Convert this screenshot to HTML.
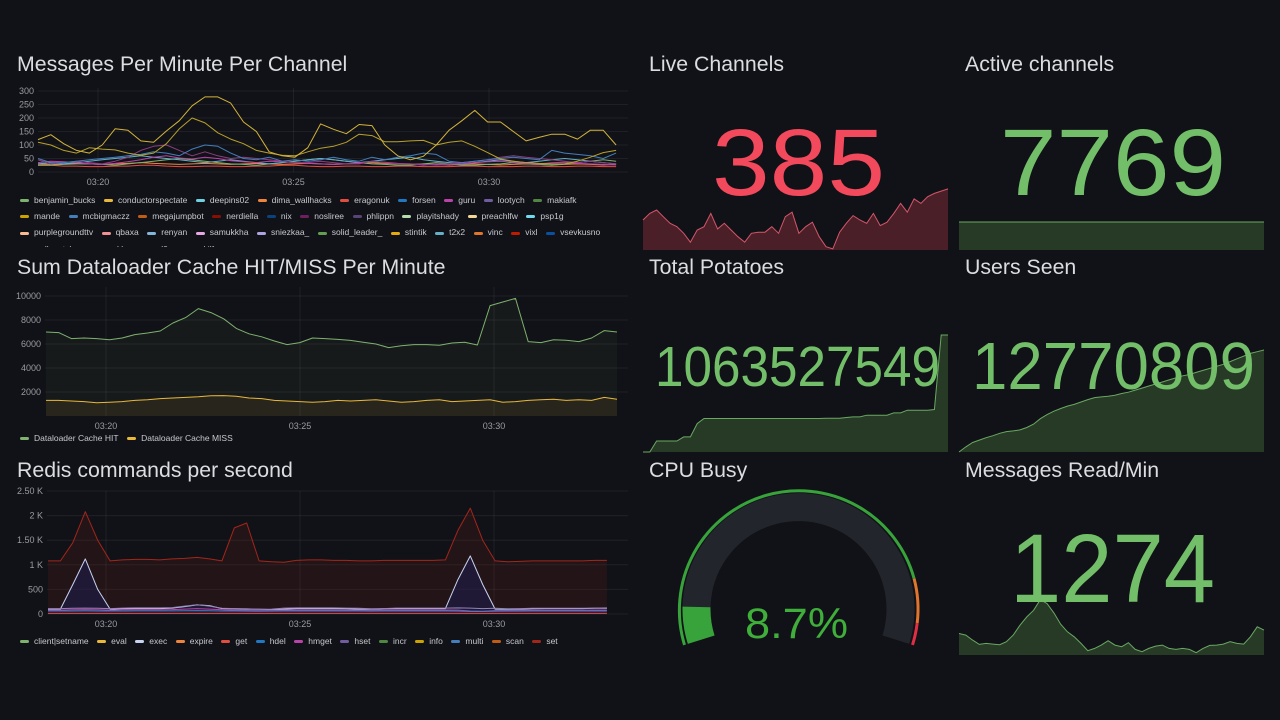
<!DOCTYPE html>
<html><head><meta charset="utf-8">
<style>
html,body{margin:0;padding:0;background:#111217;width:1280px;height:720px;overflow:hidden;font-family:"Liberation Sans",sans-serif}
svg{position:absolute;left:0;top:0}
.leg{position:absolute;left:20px;font-size:8.5px;color:#c7c8d0;white-space:nowrap;overflow:hidden}
.leg span.i{display:inline-flex;align-items:center;margin-right:8.5px}
.leg span.d{display:inline-block;width:9px;height:3px;border-radius:2px;margin-right:5px}
</style></head>
<body>
<svg id="s" width="1280" height="720"></svg>
<div id="leg1" class="leg" style="top:192px;width:610px;height:55px;line-height:15.5px"></div>
<div id="leg2" class="leg" style="top:431px;width:610px;height:14px;line-height:13px"></div>
<div id="leg3" class="leg" style="top:634px;width:610px;height:14px;line-height:13px"></div>
<script>
// ===== Chart 1: Messages per minute per channel =====
const ch1Names=["benjamin_bucks","conductorspectate","deepins02","dima_wallhacks","eragonuk","forsen","guru","lootych","makiafk","mande","mcbigmaczz","megajumpbot","nerdiella","nix","nosliree","phlippn","playitshady","preachlfw","psp1g","purplegroundttv","qbaxa","renyan","samukkha","sniezkaa_","solid_leader_","stintik","t2x2","vinc","vixl","vsevkusno","walkerstyle","xenokk","xsql0x","yukilfeus"];
const ch1Colors=["#7eb26d","#eab839","#6ed0e0","#ef843c","#e24d42","#1f78c1","#ba43a9","#705da0","#508642","#cca300","#447ebc","#c15c17","#890f02","#0a437c","#6d1f62","#584477","#b7dbab","#f4d598","#70dbed","#f9ba8f","#f29191","#82b5d8","#e5a8e2","#aea2e0","#629e51","#e5ac0e","#64b0c8","#e0752d","#bf1b00","#0a50a1","#962d82","#614d93","#9ac48a","#f2c96d"];
const ch1YTicks=[0,50,100,150,200,250,300];
const ch1XTicks=[20,25,30];
const ch1Conductor=[120,138,105,80,70,100,160,155,115,110,152,190,245,278,278,255,185,150,75,60,55,90,178,158,142,176,172,100,60,45,58,100,155,190,228,185,185,150,115,128,140,140,122,155,155,100];
const ch1Mande=[110,100,80,70,90,85,82,70,62,70,105,160,200,182,145,122,105,80,70,62,60,75,88,95,110,140,135,112,112,115,117,100,110,115,95,72,48,40,35,32,30,30,40,55,72,80];
const ch1Mcbig=[50,35,35,40,45,50,55,60,65,75,70,60,85,100,95,70,50,45,55,40,45,40,45,55,45,40,55,45,55,60,70,65,40,35,40,45,50,55,50,45,80,70,65,60,50,70];
const ch1Nosliree=[45,30,35,40,35,30,40,55,80,95,100,80,60,75,60,50,55,50,45,40,35,35,40,35,30,30,40,35,30,30,25,30,30,35,40,45,55,60,55,50,45,40,35,40,35,30];
const ch1T2x2=[30,35,30,35,40,45,50,55,60,55,50,45,40,35,40,45,40,35,30,35,40,45,50,45,40,35,40,45,50,55,45,40,35,30,35,40,45,40,35,40,45,50,45,40,35,30];
const ch1Benjamin=[25,25,28,30,30,28,25,30,35,40,45,50,45,40,35,30,28,25,30,35,40,45,50,45,40,35,30,28,25,25,30,35,30,25,25,28,30,35,30,28,25,30,35,40,45,40];
const ch1Eragonuk=[25,25,22,22,20,20,22,22,25,25,22,20,20,22,22,20,20,22,22,25,25,22,20,20,22,22,20,20,22,22,20,20,20,22,22,20,20,20,22,22,20,20,22,22,20,20];
const ch1Dima=[30,28,30,32,30,28,30,32,35,32,30,28,30,32,30,28,30,32,30,28,30,32,30,28,30,32,35,32,30,28,30,28,26,28,30,28,26,28,30,28,26,28,30,28,26,28];
const ch1Guru=[35,40,38,35,30,28,32,38,45,55,60,52,48,55,50,42,38,35,40,38,35,32,30,28,30,34,38,36,32,30,28,26,28,30,34,38,40,36,32,30,34,36,32,30,28,26];

// ===== Chart 2: Dataloader cache =====
const ch2YTicks=[2000,4000,6000,8000,10000];
const ch2Hit=[7000,6950,6450,6500,6450,6350,6500,6780,6920,7080,7750,8200,8950,8620,8100,7300,6850,6600,6250,5950,6120,6500,6450,6380,6300,6150,6000,5700,5850,5950,5950,5900,6080,6150,5920,9200,9500,9800,6200,6120,6350,6320,6200,6500,7120,7000];
const ch2Miss=[1300,1300,1250,1200,1100,1150,1200,1300,1350,1450,1500,1550,1600,1680,1700,1650,1500,1450,1300,1250,1200,1150,1200,1300,1250,1300,1350,1250,1150,1200,1300,1350,1200,1250,1300,1350,1150,1200,1300,1350,1400,1300,1350,1300,1550,1400];

// ===== Chart 3: Redis commands =====
const ch3Names=["client|setname","eval","exec","expire","get","hdel","hmget","hset","incr","info","multi","scan","set"];
const ch3Colors=["#7eb26d","#eab839","#c8d3f0","#ef843c","#e24d42","#1f78c1","#ba43a9","#705da0","#508642","#cca300","#447ebc","#c15c17","#a3261a"];
const ch3YTicks=[0,500,1000,1500,2000,2500];
const ch3YLabels=["0","500","1 K","1.50 K","2 K","2.50 K"];
const ch3Set=[1080,1080,1450,2080,1500,1080,1100,1110,1110,1100,1120,1130,1150,1120,1080,1750,1850,1080,1060,1050,1090,1100,1100,1090,1090,1080,1080,1090,1090,1090,1090,1090,1100,1700,2150,1500,1080,1060,1070,1080,1080,1080,1080,1080,1090,1090];
const ch3Exec=[100,100,600,1120,500,100,105,110,110,110,120,150,185,170,110,105,100,95,90,100,110,110,110,110,105,100,100,105,110,110,110,110,110,700,1180,600,100,95,100,105,110,110,110,110,115,115];
const ch3Hset=[110,110,115,120,115,110,120,125,125,125,130,160,190,160,115,110,105,95,100,120,125,125,125,125,120,115,105,110,120,120,120,120,120,125,120,110,115,105,110,115,115,115,115,115,120,125];
const ch3Hmget=[80,80,85,90,85,80,85,85,85,85,90,100,110,100,85,80,78,75,78,80,82,82,82,82,80,80,78,80,82,82,82,82,82,80,60,55,70,72,75,78,78,78,78,78,80,80];
const ch3Multi=[60,60,60,62,60,60,60,62,62,62,62,65,70,65,60,60,58,55,58,60,60,60,60,60,60,60,58,60,60,60,60,60,60,58,50,50,55,58,58,60,60,60,60,60,60,60];
const ch3Get=[12,12,12,12,12,12,12,12,12,12,12,12,12,12,12,12,12,12,12,12,12,12,12,12,12,12,12,12,12,12,12,12,12,12,12,12,12,12,12,12,12,12,12,12,12,12];

// ===== Stat sparklines =====
const liveChannels=[357,363,366,360,354,351,345,337,348,351,363,349,354,348,342,337,345,346,346,351,345,360,364,345,351,355,342,333,331,346,354,361,357,354,363,352,355,363,372,364,376,372,378,381,383,385];
const activeChannels=[7769,7769,7769,7769,7769,7769,7769,7769,7769,7769,7769,7769,7769,7769,7769,7769,7769,7769,7769,7769,7769,7769,7769,7769,7769,7769,7769,7769,7769,7769,7769,7769,7769,7769,7769,7769,7769,7769,7769,7769,7769,7769,7769,7769,7769,7769];
const totalPotatoes=[1060030000,1060030000,1060360000,1060360000,1060360000,1060360000,1060480000,1060480000,1060880000,1061030000,1061030000,1061030000,1061030000,1061030000,1061030000,1061030000,1061030000,1061030000,1061030000,1061030000,1061030000,1061030000,1061030000,1061030000,1061030000,1061030000,1061030000,1061040000,1061040000,1061040000,1061060000,1061080000,1061080000,1061130000,1061130000,1061130000,1061130000,1061200000,1061200000,1061280000,1061280000,1061280000,1061280000,1061300000,1063527549,1063527549];
const usersSeen=[12020809,12058309,12090809,12108309,12125809,12140809,12158309,12170809,12175809,12183309,12200809,12225809,12265809,12295809,12320809,12340809,12358309,12370809,12388309,12405809,12420809,12425809,12430809,12438309,12450809,12460809,12475809,12490809,12505809,12520809,12535809,12550809,12565809,12580809,12590809,12605809,12620809,12635809,12650809,12665809,12685809,12705809,12725809,12745809,12758309,12770809];
const messagesRead=[1174,1124,974,844,874,854,834,924,1124,1424,1674,1874,2194,2074,1794,1454,1224,1074,874,654,724,824,954,824,774,894,694,624,724,794,824,724,694,724,694,594,724,814,824,854,924,874,854,1074,1374,1274];
const cpuBusy=8.7;
const cpuThresholds=[0,85,95,100];
const cpuThresholdColors=["#37a33a","#e0752d","#e02f44"];

const NS="http://www.w3.org/2000/svg";
const svg=document.getElementById("s");
function mk(tag,attrs,parent){const e=document.createElementNS(NS,tag);for(const k in attrs)e.setAttribute(k,attrs[k]);(parent||svg).appendChild(e);return e;}

// titles
const titles=[["Messages Per Minute Per Channel",17,64],["Sum Dataloader Cache HIT/MISS Per Minute",17,267],["Redis commands per second",17,470],["Live Channels",649,64],["Active channels",965,64],["Total Potatoes",649,267],["Users Seen",965,267],["CPU Busy",649,470],["Messages Read/Min",965,470]];
titles.forEach(t=>{
  const e=mk("text",{x:t[1],y:t[2]+7,fill:"#dcdde0","font-size":"21.3","font-family":"Liberation Sans, sans-serif"});
  e.textContent=t[0];
  
  
});

function timeChart(c){
  const g=mk("g",{});
  
  
  const X=m=>c.x20+(m-20)*c.ppm;
  const Y=v=>c.y0-v*c.ppv;
  c.yTicks.forEach((v,k)=>{
    const gl=mk("line",{x1:c.left,x2:c.right,y1:Y(v),y2:Y(v),stroke:"rgba(204,204,220,0.08)","stroke-width":1},g);
    
    
    const t=mk("text",{x:c.left-4,y:Y(v)+3,fill:"#9a9aa3","font-size":"9","text-anchor":"end"},g);
    t.textContent=c.yLabels?c.yLabels[k]:String(v);
    
    
  });
  c.xTicks.forEach(m=>{
    const gl=mk("line",{x1:X(m),x2:X(m),y1:c.top,y2:c.y0,stroke:"rgba(204,204,220,0.08)","stroke-width":1},g);
    
    
    const t=mk("text",{x:X(m),y:c.y0+13,fill:"#9a9aa3","font-size":"9","text-anchor":"middle"},g);
    t.textContent="03:"+String(m).padStart(2,"0");
    
    
  });
  c.series.forEach(s=>{
    const n=s.vals.length;
    const pts=s.vals.map((v,i)=>[X(c.t0+i*(c.t1-c.t0)/(n-1)),Y(v)]);
    const d="M"+pts.map(p=>p[0].toFixed(1)+","+p[1].toFixed(1)).join("L");
    if(s.fill){
      const a=mk("path",{d:d+"L"+pts[n-1][0].toFixed(1)+","+c.y0+"L"+pts[0][0].toFixed(1)+","+c.y0+"Z",fill:s.fill,stroke:"none"},g);
      
      
    }
    const p=mk("path",{d:d,fill:"none",stroke:s.color,"stroke-width":s.w||1,"stroke-linejoin":"round"},g);
    
    
  });
}

timeChart({name:"messages-chart",left:38,right:628,top:88,y0:172,ppv:0.27,x20:98,ppm:39.1,t0:18.465,t1:33.25,yTicks:ch1YTicks,xTicks:ch1XTicks,series:[
  {name:"eragonuk",color:"#e24d42",vals:ch1Eragonuk},
  {name:"dima-wallhacks",color:"#ef843c",vals:ch1Dima},
  {name:"benjamin-bucks",color:"#7eb26d",vals:ch1Benjamin},
  {name:"t2x2",color:"#64b0c8",vals:ch1T2x2},
  {name:"guru",color:"#ba43a9",vals:ch1Guru},
  {name:"nosliree",color:"#8a3f7e",vals:ch1Nosliree},
  {name:"mcbigmaczz",color:"#447ebc",vals:ch1Mcbig},
  {name:"mande",color:"#b8a12a",vals:ch1Mande},
  {name:"conductorspectate",color:"#d4b43a",vals:ch1Conductor}
]});
timeChart({name:"cache-chart",left:45,right:628,top:287,y0:416,ppv:0.012,x20:106,ppm:38.8,t0:18.454,t1:33.17,yTicks:ch2YTicks,xTicks:ch1XTicks,series:[
  {name:"cache-hit",color:"#7eb26d",vals:ch2Hit,fill:"rgba(126,178,109,0.06)"},
  {name:"cache-miss",color:"#eab839",vals:ch2Miss,fill:"rgba(234,184,57,0.08)"}
]});
timeChart({name:"redis-chart",left:47,right:628,top:491,y0:614,ppv:0.0492,x20:106,ppm:38.8,t0:18.505,t1:32.91,yTicks:ch3YTicks,yLabels:ch3YLabels,xTicks:ch1XTicks,series:[
  {name:"set",color:"#a3261a",vals:ch3Set,fill:"rgba(163,38,26,0.13)"},
  {name:"exec",color:"#c8d3f0",vals:ch3Exec,fill:"rgba(30,30,80,0.55)"},
  {name:"hset",color:"#8f86b8",vals:ch3Hset},
  {name:"hmget",color:"#ba43a9",vals:ch3Hmget},
  {name:"multi",color:"#447ebc",vals:ch3Multi},
  {name:"get",color:"#e24d42",vals:ch3Get}
]});

// legends
function legendRows(el,rows,colorOf){
  rows.forEach(r=>{
    const row=document.createElement("div");
    r.forEach(n=>{
      const it=document.createElement("span");it.className="i";
      
      
      const d=document.createElement("span");d.className="d";d.style.background=colorOf(n);
      it.appendChild(d);it.appendChild(document.createTextNode(n));row.appendChild(it);
    });
    el.appendChild(row);
  });
}
const c1=n=>ch1Colors[ch1Names.indexOf(n)];
legendRows(document.getElementById("leg1"),[ch1Names.slice(0,9),ch1Names.slice(9,19),ch1Names.slice(19,30),ch1Names.slice(30)],c1);
legendRows(document.getElementById("leg2"),[["Dataloader Cache HIT","Dataloader Cache MISS"]],n=>n.endsWith("HIT")?"#7eb26d":"#eab839");
legendRows(document.getElementById("leg3"),[ch3Names],n=>ch3Colors[ch3Names.indexOf(n)]);

// sparklines
function spark(name,vals,x0,x1,yb,yt,vmin,vmax,stroke,fill){
  const n=vals.length;
  const pts=vals.map((v,i)=>[x0+i*(x1-x0)/(n-1),yb-(v-vmin)/(vmax-vmin)*(yb-yt)]);
  const d="M"+pts.map(p=>p[0].toFixed(1)+","+p[1].toFixed(1)).join("L");
  const a=mk("path",{d:d+"L"+x1+","+yb+"L"+x0+","+yb+"Z",fill:fill,stroke:"none"});
  
  
  const l=mk("path",{d:d,fill:"none",stroke:stroke,"stroke-width":1});
  
  
}
spark("live-channels",liveChannels,643,948,250,190.7,330,383.4,"#d4566a","#4a1f27");
spark("active-channels",activeChannels,959,1264,250,185,7700,7860,"#6aa862","#263a26");
spark("total-potatoes",totalPotatoes,643,948,452,335,1060030000,1063527549,"#6aa862","#263a26");
spark("users-seen",usersSeen,959,1264,452,350,12020809,12770809,"#6aa862","#263a26");
spark("messages-read",messagesRead,959,1264,655,597,524,2274,"#6aa862","#263a26");

function bigNum(name,txt,cx,base,size,len,color){
  const t=mk("text",{x:cx,y:base,fill:color,"font-size":size,"text-anchor":"middle",textLength:len,lengthAdjust:"spacingAndGlyphs"});
  t.textContent=txt;
  
  
}
bigNum("live-channels-value","385",798.5,195,95,173,"#f2495c");
bigNum("active-channels-value","7769",1113,195,95,226,"#73bf69");
bigNum("total-potatoes-value","1063527549",797.5,386,57,285,"#73bf69");
bigNum("users-seen-value","12770809",1113.5,389,67,283,"#73bf69");
bigNum("messages-read-value","1274",1112.5,602,97,205,"#73bf69");

// gauge
const gcx=798.5,gcy=609,startA=197.5,span=215;
function pt(r,f){const a=(startA-f*span)*Math.PI/180;return [gcx+r*Math.cos(a),gcy-r*Math.sin(a)];}
function arc(r,f0,f1){const p0=pt(r,f0),p1=pt(r,f1);const large=(f1-f0)*span>180?1:0;return "M"+p0[0].toFixed(1)+","+p0[1].toFixed(1)+"A"+r+","+r+" 0 "+large+" 1 "+p1[0].toFixed(1)+","+p1[1].toFixed(1);}
const bg=mk("path",{d:arc(102,0,1),fill:"none",stroke:"#22252b","stroke-width":28});


const fg=mk("path",{d:arc(102,0,cpuBusy/100),fill:"none",stroke:"#37a33a","stroke-width":28});


for(let k=0;k<cpuThresholdColors.length;k++){
  const th=mk("path",{d:arc(119.5,cpuThresholds[k]/100,cpuThresholds[k+1]/100),fill:"none",stroke:cpuThresholdColors[k],"stroke-width":3});
  
  
}
bigNum("cpu-busy-value",cpuBusy+"%",796.5,638,43,103,"#3fae3a");
</script>
</body></html>
